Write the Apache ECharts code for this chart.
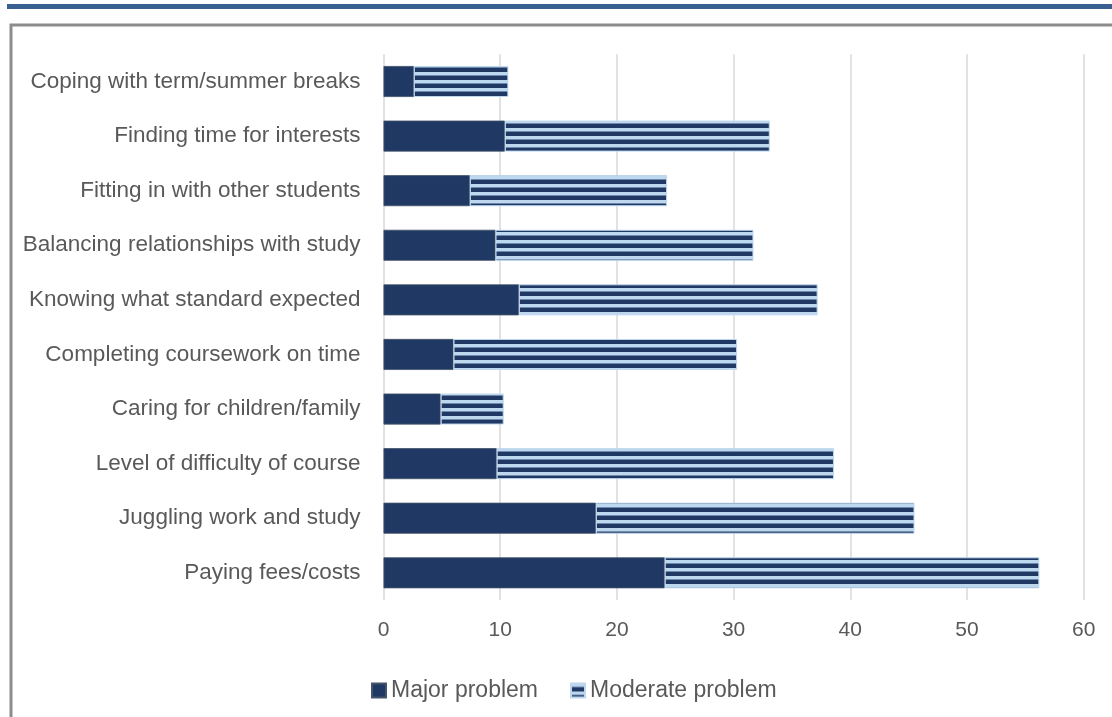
<!DOCTYPE html>
<html>
<head>
<meta charset="utf-8">
<script src="https://cdn.jsdelivr.net/npm/echarts@6/dist/echarts.min.js"></script>
<style>
html,body{margin:0;padding:0;background:#fff;}
#chart{width:1112px;height:717px;}
</style>
</head>
<body>
<div id="chart"></div>
<script>
const categories = [
  'Coping with term/summer breaks',
  'Finding time for interests',
  'Fitting in with other students',
  'Balancing relationships with study',
  'Knowing what standard expected',
  'Completing coursework on time',
  'Caring for children/family',
  'Level of difficulty of course',
  'Juggling work and study',
  'Paying fees/costs'
];
const majorProblem = [2.6, 10.4, 7.4, 9.6, 11.6, 6.0, 4.9, 9.7, 18.2, 24.1];
const moderateProblem = [8.1, 22.7, 16.9, 22.1, 25.6, 24.3, 5.4, 28.9, 27.3, 32.1];
const xTicks = [0, 10, 20, 30, 40, 50, 60];

const NAVY = '#203864';
const LIGHT = '#bdd7ee';

function makePattern() {
  const c = document.createElement('canvas');
  c.width = 8; c.height = 8;
  const g = c.getContext('2d');
  g.imageSmoothingEnabled = false;
  g.fillStyle = LIGHT; g.fillRect(0, 0, 8, 8);
  g.fillStyle = '#6f88ab'; g.fillRect(0, 3, 8, 1);
  g.fillStyle = NAVY; g.fillRect(0, 4, 8, 4);
  return c;
}
const pattern = { image: makePattern(), repeat: 'repeat' };

const chart = echarts.init(document.getElementById('chart'), null, { renderer: 'canvas' });
const font = 'Liberation Sans';
chart.setOption({
  animation: false,
  backgroundColor: '#fff',
  textStyle: { fontFamily: font },
  graphic: [
    { type: 'rect', shape: { x: 7, y: 4, width: 1110, height: 5 }, style: { fill: '#386192' }, silent: true },
    { type: 'rect', shape: { x: 11, y: 25, width: 1200, height: 800 }, style: { fill: 'none', stroke: '#8c8c8c', lineWidth: 3 }, silent: true }
  ],
  grid: { left: 383.5, right: 28.3, top: 54.2, bottom: 116.9, containLabel: false },
  legend: {
    left: 366, top: 674, itemWidth: 14, itemHeight: 14, itemGap: 32,
    icon: 'rect',
    textStyle: { fontSize: 23, color: '#595959', fontFamily: font },
    data: ['Major problem', 'Moderate problem']
  },
  xAxis: {
    type: 'value', min: xTicks[0], max: xTicks[xTicks.length - 1], interval: 10,
    axisLine: { show: false }, axisTick: { show: false },
    splitLine: { show: true, lineStyle: { color: '#d9d9d9', width: 1.5 } },
    axisLabel: { fontSize: 21, color: '#595959', margin: 20, fontFamily: font }
  },
  yAxis: {
    type: 'category', inverse: true, data: categories,
    axisLine: { show: false }, axisTick: { show: false },
    axisLabel: { fontSize: 22.5, color: '#595959', margin: 23, fontFamily: font }
  },
  series: [
    {
      name: 'Major problem', type: 'bar', stack: 'total', data: majorProblem,
      barWidth: 31,
      itemStyle: { color: NAVY, borderColor: '#44546a', borderWidth: 0.8 }
    },
    {
      name: 'Moderate problem', type: 'bar', stack: 'total', data: moderateProblem,
      barWidth: 31,
      itemStyle: { color: pattern, borderColor: LIGHT, borderWidth: 1 }
    }
  ]
});
</script>
</body>
</html>
